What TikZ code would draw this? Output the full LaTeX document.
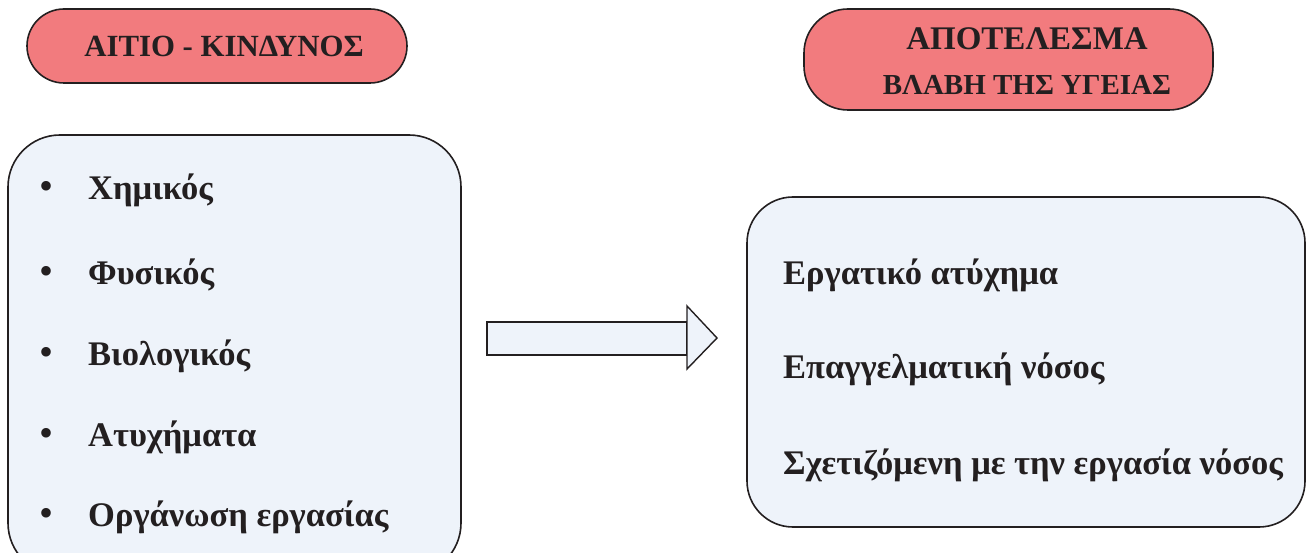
\documentclass[tikz,border=0pt]{standalone}
\usepackage{fontspec}
\setmainfont{Liberation Serif}
\definecolor{pillred}{HTML}{F27B7E}
\definecolor{boxblue}{HTML}{EEF3FA}
\definecolor{ink}{HTML}{231F20}
\tikzset{
  pill/.style={draw=ink, line width=1.6pt, fill=pillred},
  panel/.style={draw=ink, line width=1.6pt, fill=boxblue},
  head/.style={font=\bfseries\fontsize{30.8}{36}\selectfont, text=ink},
  item/.style={font=\bfseries\fontsize{34.5}{40}\selectfont, text=ink, anchor=base west, inner sep=0pt},
  dot/.style={font=\fontsize{40}{44}\selectfont, text=ink, anchor=base, inner sep=0pt},
}
\begin{document}
\begin{tikzpicture}[x=1pt, y=-1pt]
\useasboundingbox (0,0) rectangle (1306,553);
\begin{scope}
\clip (0,0) rectangle (1306,553);
% heading pills
\draw[pill, rounded corners=37pt] (27,9) rectangle (407,83);
\node[head] (cause) at (224,46) {ΑΙΤΙΟ - ΚΙΝΔΥΝΟΣ};
\draw[pill, rounded corners=44pt] (804,9) rectangle (1213,110);
\node[head, font=\bfseries\fontsize{33}{38}\selectfont] (effect) at (1027,39) {ΑΠΟΤΕΛΕΣΜΑ};
\node[head, font=\bfseries\fontsize{29}{34}\selectfont] (harm) at (1027,85) {ΒΛΑΒΗ ΤΗΣ ΥΓΕΙΑΣ};
% content panels
\draw[panel, rounded corners=52pt] (8,135) rectangle (461,575);
\draw[panel, rounded corners=46pt] (747,197) rectangle (1305,527);
% block arrow
\coordinate (shaftA) at (487,322);
\coordinate (shaftB) at (687,355);
\draw[panel, line width=1.4pt] (shaftA) rectangle (shaftB);
\draw[panel, line width=1.4pt, line join=miter] (687,306) -- (717,338) -- (687,369) -- cycle;
% hazard list
\foreach \y/\t/\n in {200/Χημικός/a, 284/Φυσικός/b, 365/Βιολογικός/c, 446/Ατυχήματα/d, 526/Οργάνωση εργασίας/e}{
  \node[dot] (dot\n) at (47,\y) {•};
  \node[item] (haz\n) at (88,\y) {\t};
}
% outcome list
\node[item] (out1) at (783,285) {Εργατικό ατύχημα};
\node[item] (out2) at (783,378) {Επαγγελματική νόσος};
\node[item] (out3) at (783,474) {Σχετιζόμενη με την εργασία νόσος};
\end{scope}
\end{tikzpicture}
\end{document}
